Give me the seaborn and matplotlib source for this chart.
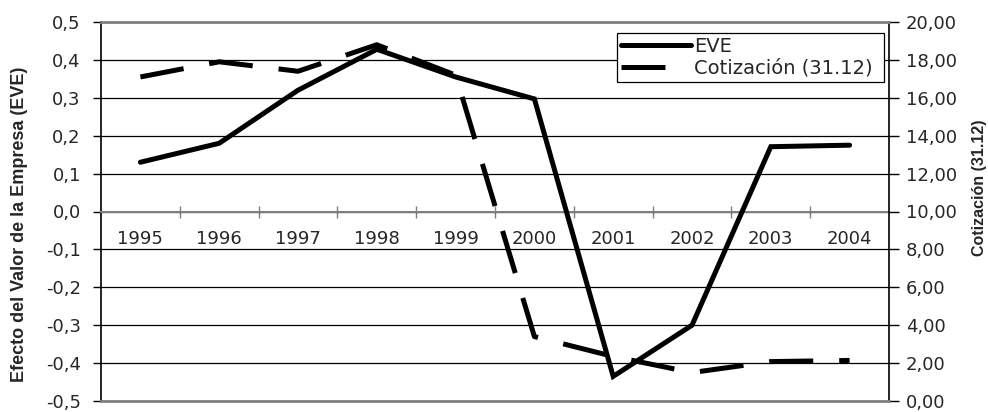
import numpy as np
import pandas as pd
import matplotlib
matplotlib.use("Agg")
import matplotlib.pyplot as plt
import seaborn as sns
from matplotlib.lines import Line2D
from matplotlib.ticker import FuncFormatter

# Series data
years = ["1995", "1996", "1997", "1998", "1999", "2000", "2001", "2002", "2003", "2004"]
eve = [0.13, 0.18, 0.32, 0.428, 0.355, 0.297, -0.435, -0.30, 0.171, 0.175]
cotizacion = [17.1, 17.9, 17.4, 18.8, 17.2, 3.4, 2.35, 1.5, 2.08, 2.14]

left_ticks = [-0.5, -0.4, -0.3, -0.2, -0.1, 0.0, 0.1, 0.2, 0.3, 0.4, 0.5]
right_ticks = [0, 2, 4, 6, 8, 10, 12, 14, 16, 18, 20]

sns.set_style("white")
plt.rcParams["font.family"] = ["DejaVu Sans"]
label_font = ["Liberation Sans", "DejaVu Sans"]
tick_size = 13

df = pd.DataFrame({"pos": np.arange(len(years)), "year": years,
                   "EVE": eve, "Cotizacion": cotizacion})

fig = plt.figure(figsize=(9.88, 4.12), dpi=100)
ax = fig.add_axes([101 / 988, 1 - 401 / 412, 788 / 988, 379 / 412])
ax2 = ax.twinx()

lw = 3.6
dash = (0, (8.8, 5.2))
sns.lineplot(data=df, x="pos", y="EVE", ax=ax, color="black", linewidth=lw,
             solid_joinstyle="miter", zorder=3, legend=False)
sns.lineplot(data=df, x="pos", y="Cotizacion", ax=ax2, color="black", linewidth=lw,
             linestyle=dash, dash_capstyle="butt", zorder=3, legend=False)

# Left axis
ax.set_xlim(-0.5, len(years) - 0.5)
ax.set_ylim(-0.5, 0.5)
ax.set_yticks(left_ticks)
ax.yaxis.set_major_formatter(FuncFormatter(lambda v, p: f"{v:.1f}".replace(".", ",").replace("-0,0", "0,0")))
ax.grid(axis="y", color="black", linewidth=0.9)
ax.grid(axis="x", visible=False)
ax.tick_params(axis="y", which="major", left=True, length=6, width=1, color="black",
               labelsize=tick_size, pad=8.5, direction="out")

# Category axis placed on the zero line
ax.spines["bottom"].set_position(("data", 0))
ax.spines["bottom"].set_color("#7f7f7f")
ax.spines["bottom"].set_linewidth(1.4)
ax.spines["bottom"].set_zorder(2.5)
ax.spines["left"].set_color("black")
ax.spines["left"].set_linewidth(1.2)
ax.spines["top"].set_visible(False)
ax.spines["right"].set_visible(False)
ax.set_xticks(np.arange(len(years)))
ax.set_xticklabels(years)
ax.set_xticks(np.arange(len(years) - 1) + 0.5, minor=True)
ax.tick_params(axis="x", which="major", bottom=True, length=0, labelsize=tick_size, pad=13)
ax.tick_params(axis="x", which="minor", bottom=True, length=8, width=1,
               color="#7f7f7f", direction="inout")
ax.set_xlabel("")
ax.set_ylabel("")

# Right axis
ax2.set_ylim(0, 20)
ax2.set_yticks(right_ticks)
ax2.yaxis.set_major_formatter(FuncFormatter(lambda v, p: f"{v:.2f}".replace(".", ",")))
ax2.tick_params(axis="y", right=True, length=7, width=1, color="black",
                labelsize=tick_size, pad=5, direction="out")
ax2.grid(False)
ax2.spines["right"].set_color("black")
ax2.spines["right"].set_linewidth(1.2)
ax2.spines["left"].set_visible(False)
ax2.spines["top"].set_color("#7f7f7f")
ax2.spines["top"].set_linewidth(2)
ax2.spines["bottom"].set_color("#7f7f7f")
ax2.spines["bottom"].set_linewidth(2)
ax2.set_ylabel("")

# Axis titles
fig.text(20 / 988, 1 - 224 / 412, "Efecto del Valor de la Empresa (EVE)", rotation=90,
         ha="center", va="center", fontsize=13, fontweight="bold", family=label_font)
fig.text(979 / 988, 1 - 188 / 412, "Cotización (31.12)", rotation=90,
         ha="center", va="center", fontsize=11.5, fontweight="bold", family=label_font)

handles = [
    Line2D([], [], color="black", linewidth=lw),
    Line2D([], [], color="black", linewidth=lw, linestyle=dash, dash_capstyle="butt"),
]
leg = ax2.legend(handles, ["EVE", "Cotización (31.12)"],
                 loc="upper left", bbox_to_anchor=(516 / 788, (401 - 82) / 379, 267 / 788, 49 / 379),
                 mode="expand", borderaxespad=0, frameon=True, fancybox=False,
                 edgecolor="black", framealpha=1, fontsize=14, handlelength=3.6,
                 handletextpad=0.15, borderpad=0.22, labelspacing=0.12)
leg.get_frame().set_linewidth(0.9)
leg.set_zorder(5)

fig.savefig("out.png", dpi=100)
